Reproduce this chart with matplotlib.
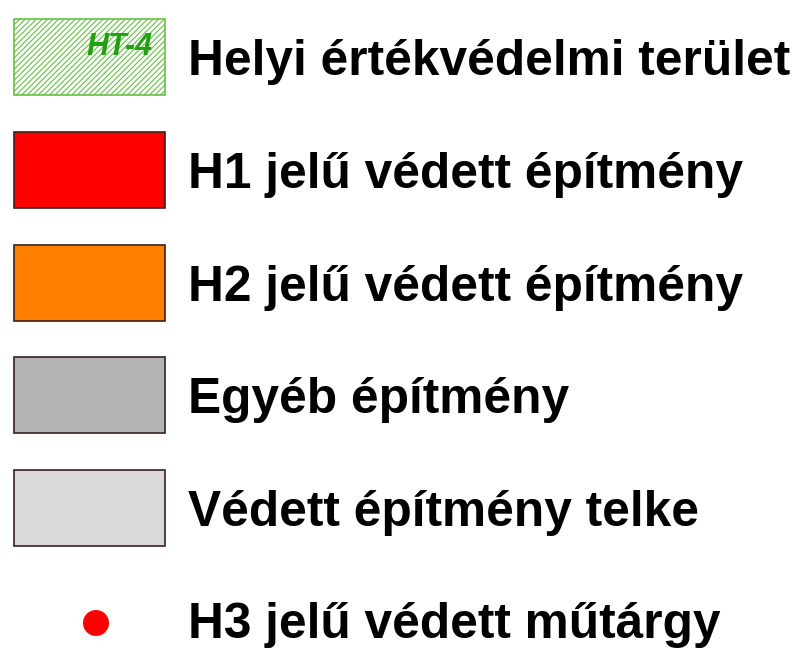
import matplotlib.pyplot as plt
from matplotlib.patches import Rectangle, Circle

# Legend entries, top to bottom
labels = [
    "Helyi értékvédelmi terület",
    "H1 jelű védett építmény",
    "H2 jelű védett építmény",
    "Egyéb építmény",
    "Védett építmény telke",
    "H3 jelű védett műtárgy",
]
kinds = ["hatch", "box", "box", "box", "box", "dot"]
face_colors = ["white", "#ff0000", "#ff8000", "#b3b3b3", "#d9d9d9", "#ff0000"]
edge_colors = ["#66c044", "#3a2020", "#3a2020", "#3a2020", "#3a2020", "none"]
zone_tag = "HT-4"

plt.rcParams['font.family'] = ['Liberation Sans', 'DejaVu Sans']
plt.rcParams['hatch.linewidth'] = 0.8

fig = plt.figure(figsize=(7.98, 6.52), dpi=100)
ax = fig.add_axes([0, 0, 1, 1])
ax.set_xlim(0, 798)
ax.set_ylim(652, 0)
ax.axis('off')

row_top, row_step = 19, 112.8
box_x, box_w, box_h = 14, 151, 76

for i, (lab, kind) in enumerate(zip(labels, kinds)):
    y0 = row_top + i * row_step
    baseline = y0 + 56
    if kind == "hatch":
        ax.add_patch(Rectangle((box_x, y0), box_w, box_h, facecolor="white",
                               edgecolor=edge_colors[i], hatch="//////", lw=1.2))
        ax.text(box_x + box_w - 12, y0 + 36, zone_tag, color="#22a012",
                fontsize=22, fontweight='bold', style='italic', ha='right', va='baseline')
    elif kind == "box":
        ax.add_patch(Rectangle((box_x, y0), box_w, box_h, facecolor=face_colors[i],
                               edgecolor=edge_colors[i], lw=1.2))
    else:
        baseline = 638
        ax.add_patch(Circle((96, 623), 13, facecolor=face_colors[i], edgecolor='none'))
    ax.text(188, baseline, lab, fontsize=35.7, fontweight='bold', color='black',
            ha='left', va='baseline')

fig.savefig("out.png", dpi=100)
